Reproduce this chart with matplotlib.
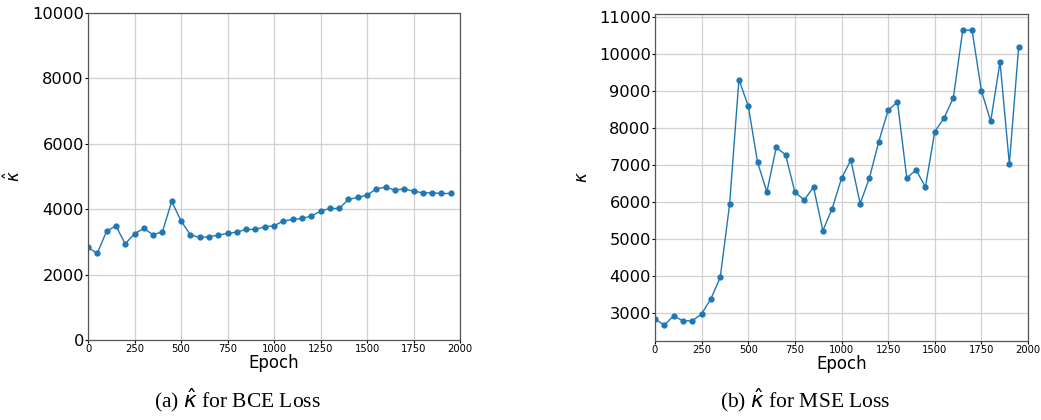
import matplotlib
matplotlib.use("Agg")
import matplotlib.pyplot as plt

epochs = list(range(0, 2000, 50))
bce_kappa = [2830, 2650, 3330, 3490, 2940, 3250, 3410, 3220, 3310, 4236,
             3646, 3218, 3136, 3157, 3208, 3259, 3299, 3381, 3381, 3462,
             3493, 3636, 3686, 3717, 3788, 3941, 4022, 4022, 4297, 4358,
             4430, 4623, 4674, 4582, 4623, 4552, 4501, 4501, 4481, 4481]
mse_kappa = [2830, 2660, 2911, 2776, 2776, 2964, 3376, 3957, 5935, 9310,
             8602, 7072, 6266, 7474, 7277, 6266, 6051, 6400, 5220, 5819,
             6633, 7134, 5953, 6651, 7635, 8477, 8709, 6642, 6866, 6400,
             7904, 8271, 8826, 10650, 10650, 9013, 8181, 9792, 7027, 10200]
x_ticks = [0, 250, 500, 750, 1000, 1250, 1500, 1750, 2000]
left_yticks = [0, 2000, 4000, 6000, 8000, 10000]
right_yticks = [3000, 4000, 5000, 6000, 7000, 8000, 9000, 10000, 11000]

W, H = 1041, 420
fig = plt.figure(figsize=(W / 100, H / 100), dpi=100)

def make_ax(x0, x1, y0, y1):
    return fig.add_axes([x0 / W, 1 - y1 / H, (x1 - x0) / W, (y1 - y0) / H])

ax1 = make_ax(88, 460, 13, 340)
ax2 = make_ax(655, 1028, 14, 341)

color = "#1f77b4"
for ax, vals, ylabel, yt in [(ax1, bce_kappa, r"$\hat{\kappa}$", left_yticks),
                              (ax2, mse_kappa, r"$\kappa$", right_yticks)]:
    ax.plot(epochs, vals, marker="o", markersize=3.5, linewidth=1.0, color=color)
    ax.set_xlim(0, 2000)
    ax.set_xticks(x_ticks)
    ax.set_yticks(yt)
    ax.grid(True, color="#d0d0d0", linewidth=0.9)
    ax.set_axisbelow(True)
    ax.tick_params(axis="x", labelsize=7.2, length=2, pad=1)
    ax.tick_params(axis="y", labelsize=11.7, length=2, pad=1)
    ax.set_xlabel("Epoch", fontsize=12, labelpad=0)
    ax.set_ylabel(ylabel, fontsize=12, labelpad=6)
    for s in ax.spines.values():
        s.set_color("#555555")
        s.set_linewidth(0.9)

ax1.set_ylim(0, 10000)
ax2.set_ylim(2230, 11090)

fig.text(237 / W, 1 - 400 / H, r"(a) $\hat{\kappa}$ for BCE Loss", ha="center", va="center",
         fontsize=15.5, family="Liberation Serif")
fig.text(805 / W, 1 - 400 / H, r"(b) $\hat{\kappa}$ for MSE Loss", ha="center", va="center",
         fontsize=15.5, family="Liberation Serif")

fig.savefig("out.png", dpi=100)
